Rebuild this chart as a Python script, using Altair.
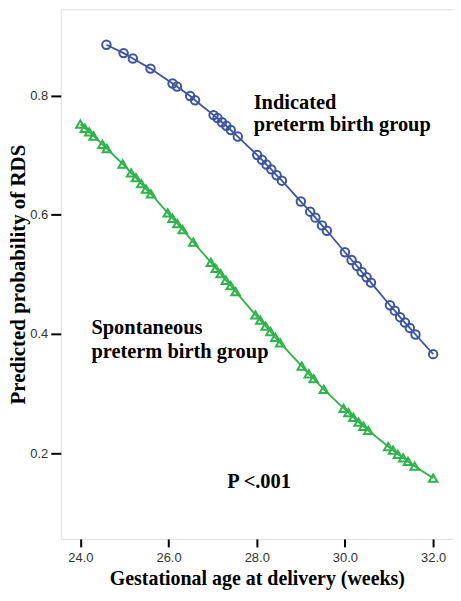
import altair as alt
import pandas as pd

# Indicated preterm birth group (blue circles)
ind_age = [24.59, 24.98, 25.19, 25.59, 26.09, 26.19, 26.49, 26.60, 27.02, 27.11,
           27.21, 27.31, 27.41, 27.57, 28.01, 28.12, 28.22, 28.33, 28.45, 28.57,
           29.00, 29.21, 29.33, 29.48, 29.59, 30.00, 30.15, 30.27, 30.38, 30.49,
           30.59, 31.02, 31.13, 31.25, 31.36, 31.47, 31.60, 32.00]
ind_prob = [0.885, 0.871, 0.862, 0.845, 0.820, 0.815, 0.799, 0.792, 0.767, 0.762,
            0.755, 0.749, 0.742, 0.731, 0.700, 0.692, 0.684, 0.676, 0.666, 0.657,
            0.622, 0.605, 0.595, 0.582, 0.573, 0.537, 0.524, 0.514, 0.504, 0.495,
            0.486, 0.448, 0.439, 0.428, 0.419, 0.410, 0.399, 0.366]

# Spontaneous preterm birth group (green triangles)
spo_age = [24.0, 24.1, 24.2, 24.3, 24.5, 24.6, 24.96, 25.15, 25.26, 25.38,
           25.49, 25.60, 25.98, 26.09, 26.20, 26.32, 26.56, 26.96, 27.07, 27.18,
           27.30, 27.41, 27.52, 27.97, 28.08, 28.20, 28.31, 28.42, 28.53, 29.02,
           29.18, 29.29, 29.52, 29.97, 30.08, 30.19, 30.31, 30.42, 30.53, 30.98,
           31.09, 31.20, 31.32, 31.43, 31.58, 32.0]
spo_prob = [0.752, 0.745, 0.739, 0.732, 0.718, 0.711, 0.685, 0.670, 0.662, 0.652,
            0.643, 0.635, 0.603, 0.594, 0.585, 0.575, 0.554, 0.520, 0.510, 0.501,
            0.490, 0.481, 0.471, 0.432, 0.423, 0.413, 0.404, 0.394, 0.385, 0.346,
            0.333, 0.325, 0.307, 0.275, 0.268, 0.260, 0.252, 0.245, 0.238, 0.211,
            0.205, 0.198, 0.192, 0.186, 0.178, 0.158]

groups = ["Indicated", "Spontaneous"]
colors = ["#3b55a3", "#2fb34a"]
shapes = ["circle", "triangle-up"]

x_ticks = [24, 26, 28, 30, 32]
y_ticks = [0.2, 0.4, 0.6, 0.8]

ann_text = ["Indicated", "preterm birth group", "Spontaneous", "preterm birth group", "P <.001"]
ann_x = [27.93, 27.93, 24.25, 24.25, 27.33]
ann_y = [0.778, 0.740, 0.400, 0.360, 0.141]

df = pd.concat([
    pd.DataFrame({"age": ind_age, "prob": ind_prob, "group": groups[0]}),
    pd.DataFrame({"age": spo_age, "prob": spo_prob, "group": groups[1]}),
])
ann = pd.DataFrame({"text": ann_text, "age": ann_x, "prob": ann_y})

SERIF = "Liberation Serif"
SANS = "Liberation Sans"

x_enc = alt.X("age:Q",
              scale=alt.Scale(domain=[23.555, 32.45], nice=False, zero=False),
              axis=alt.Axis(values=x_ticks, format=".1f",
                            title="Gestational age at delivery (weeks)",
                            grid=False, domain=False,
                            tickSize=8, tickWidth=2, tickColor="black",
                            labelFont=SANS, labelFontSize=13, labelColor="#333",
                            labelPadding=5,
                            titleFont=SERIF, titleFontSize=20, titleFontWeight="bold",
                            titleColor="black", titlePadding=4))
y_enc = alt.Y("prob:Q",
              scale=alt.Scale(domain=[0.056, 0.9445], nice=False, zero=False),
              axis=alt.Axis(values=y_ticks, format=".1f",
                            title="Predicted probability of RDS",
                            grid=False, domain=False,
                            tickSize=10, tickWidth=2, tickColor="black",
                            labelFont=SANS, labelFontSize=13, labelColor="#333",
                            labelPadding=3,
                            titleFont=SERIF, titleFontSize=21, titleFontWeight="bold",
                            titleColor="black", titleAngle=270,
                            titleBaseline="alphabetic", titleAlign="center",
                            titleX=-36, titleY=266))

color = alt.Color("group:N", scale=alt.Scale(domain=groups, range=colors), legend=None)
shape = alt.Shape("group:N", scale=alt.Scale(domain=groups, range=shapes), legend=None)

lines = alt.Chart(df).mark_line(strokeWidth=1.8).encode(
    x=x_enc, y=y_enc, color=color, detail="group:N")

points = alt.Chart(df).mark_point(filled=False, size=72, strokeWidth=2, opacity=1).encode(
    x="age:Q", y="prob:Q", color=color, shape=shape)

texts = alt.Chart(ann).mark_text(align="left", baseline="alphabetic", font=SERIF,
                                 fontSize=20.5, fontWeight="bold", color="black").encode(
    x="age:Q", y="prob:Q", text="text:N")

chart = alt.layer(lines, points, texts).properties(
    width=394, height=532,
    autosize=alt.AutoSizeParams(type="none"),
    padding={"left": 53, "top": 0, "right": 0, "bottom": 52},
).configure_view(stroke="black", strokeWidth=2).configure(background="white")

chart.save("out.html", embed_options={"renderer": "svg", "actions": False})
